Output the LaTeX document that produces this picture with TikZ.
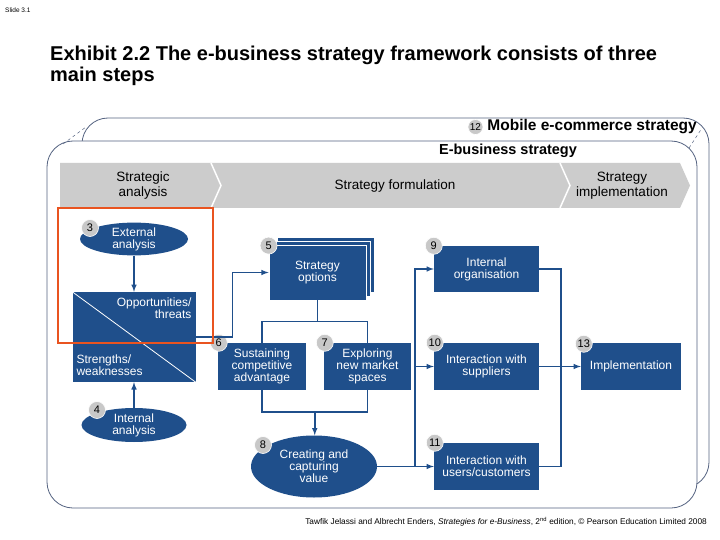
\documentclass[tikz,border=0pt]{standalone}
\usepackage{fontspec}
\setmainfont{Liberation Sans}
\usetikzlibrary{shapes.geometric,shadows,calc,positioning}
\definecolor{pearsonblue}{RGB}{31,79,139}
\definecolor{framegray}{RGB}{84,98,128}
\definecolor{chevgray}{RGB}{204,204,204}
\definecolor{badgegray}{RGB}{200,200,200}
\definecolor{hiorange}{RGB}{233,84,32}
\newcommand{\boxfont}{\fontsize{12}{12}\selectfont}

\begin{document}
\begin{tikzpicture}[
                        x=1pt, y=-1pt,
                        >=latex,
                        box/.style={rectangle, fill=pearsonblue, text=white, align=center, font=\boxfont, inner sep=0pt},
                        oval/.style={ellipse, fill=pearsonblue, text=white, align=center, font=\boxfont, inner sep=0pt},
                        stacked/.style={draw=white, line width=.8pt,
                            copy shadow={shadow xshift=8pt, shadow yshift=8pt},
                            copy shadow={shadow xshift=4pt, shadow yshift=4pt}},
                        badge/.style={circle, fill=badgegray, draw=white, line width=.6pt, inner sep=0pt, minimum size=17pt, font=\fontsize{11}{11}\selectfont},
                        link/.style={draw=pearsonblue, line width=1.5pt},
                        stage/.style={align=center, font=\fontsize{13.5}{15}\selectfont},
                        frame/.style={draw=framegray, line width=.8pt, rounded corners=26pt},
                        heading/.style={font=\bfseries\fontsize{14.5}{15}\selectfont, inner sep=0pt}
                    ]
                    \useasboundingbox (0,0) rectangle (720,540);

                    % Titles
                    \node [anchor=west, inner sep=0pt, font=\fontsize{6.5}{7}\selectfont] (slideNo) at (5,10) {Slide 3.1};
                    \node [anchor=north west, inner sep=0pt, align=left, font=\bfseries\fontsize{20}{21}\selectfont] (title) at (50,46) {Exhibit 2.2 The e-business strategy framework consists of three\\main steps};
                    \node [anchor=east, inner sep=0pt, font=\fontsize{8.3}{9}\selectfont] (credit) at (707,522) {Tawfik Jelassi and Albrecht Enders, \textit{Strategies for e-Business}, 2\textsuperscript{nd} edition, © Pearson Education Limited 2008};

                    % Frames
                    \draw [frame] (82,118) rectangle (709,488);
                    \draw [frame, fill=white] (47,141) rectangle (697,508);
                    \draw [framegray, dashed, line width=.5pt] (63,144) -- (86,127);
                    \draw [framegray, dashed, line width=.5pt] (689,148) -- (702,128);
                    \node [heading, font=\bfseries\fontsize{15.5}{16}\selectfont, anchor=east] (mobileLbl) at (697,127) {Mobile e-commerce strategy};
                    \node [badge, minimum size=15pt, font=\fontsize{10}{10}\selectfont, left=4pt of mobileLbl] (num12) {12};
                    \node [heading] (ebizLbl) at (508,151) {E-business strategy};

                    % Stages
                    \fill [chevgray] (60,163) -- (680,163) -- (690,185.5) -- (680,208) -- (60,208) -- cycle;
                    \draw [white, line width=1.5pt] (211,163) -- (221,185.5) -- (211,208);
                    \draw [white, line width=1.5pt] (560,163) -- (570,185.5) -- (560,208);
                    \node [stage] (anaStage) at (143,185.5) {Strategic\\analysis};
                    \node [stage] (formStage) at (395,186) {Strategy formulation};
                    \node [stage] (implStage) at (622,185.5) {Strategy\\implementation};

                    % Blocks
                    \node [oval, minimum width=108pt, minimum height=32pt] (extAna) at (134,239) {External\\analysis};
                    \node [box, minimum width=123pt, minimum height=90pt] (oppThr) at (134,337) {};
                    \draw [white, line width=.8pt] (oppThr.north west) -- (oppThr.south east);
                    \node [box, fill=none, anchor=north east, align=right] (oppTxt) at ($(oppThr.north east)+(-4,6)$) {Opportunities/\\threats};
                    \node [box, fill=none, anchor=south west, align=left] (swTxt) at ($(oppThr.south west)+(4,-6)$) {Strengths/\\weaknesses};
                    \node [oval, minimum width=105pt, minimum height=34pt] (intAna) at (134,425) {Internal\\analysis};

                    \node [box, stacked, minimum width=97pt, minimum height=55pt] (stratOpt) at (317.5,272.5) {Strategy\\options};
                    \node [box, minimum width=88pt, minimum height=47pt] (sustain) at (262,366.5) {Sustaining\\competitive\\advantage};
                    \node [box, minimum width=87pt, minimum height=47pt] (explore) at (367.5,366.5) {Exploring\\new market\\spaces};
                    \node [oval, minimum width=126pt, minimum height=62pt] (createVal) at (314,466.5) {Creating and\\capturing\\value};

                    \node [box, minimum width=105pt, minimum height=46pt] (intOrg) at (486.5,269) {Internal\\organisation};
                    \node [box, minimum width=105pt, minimum height=47pt] (suppliers) at (486.5,366.5) {Interaction with\\suppliers};
                    \node [box, minimum width=105pt, minimum height=47pt] (users) at (486.5,466.5) {Interaction with\\users/customers};
                    \node [box, minimum width=100pt, minimum height=47pt] (impl) at (631,366.5) {Implementation};

                    % Numbers
                    \node [badge] (num3) at (90,228) {3};
                    \node [badge] (num4) at (97,410) {4};
                    \node [badge] (num5) at ($(stratOpt.north west)+(0,1)$) {5};
                    \node [badge] (num6) at ($(sustain.north west)+(1,0)$) {6};
                    \node [badge] (num7) at ($(explore.north west)+(1,0)$) {7};
                    \node [badge] (num8) at (263,445) {8};
                    \node [badge] (num9) at ($(intOrg.north west)+(0,0)$) {9};
                    \node [badge] (num10) at ($(suppliers.north west)+(1,0)$) {10};
                    \node [badge] (num11) at ($(users.north west)+(1,0)$) {11};
                    \node [badge] (num13) at ($(impl.north west)+(3,1)$) {13};

                    % Connections
                    \coordinate (busL) at (415,0);
                    \coordinate (busR) at (561,0);
                    \draw [link, ->] (extAna) -- (oppThr);
                    \draw [link, ->] (intAna) -- (oppThr);
                    \draw [link, ->] (oppThr.east) -- ++(37,0) |- (stratOpt.west);
                    \draw [link] (stratOpt.south) -- ++(0,21) coordinate (split);
                    \draw [link] (sustain.north) |- (split) -| (explore.north);
                    \draw [link] (sustain.south) -- ++(0,22) coordinate (mergeL) -| (explore.south);
                    \coordinate (merge) at ($(mergeL)!0.5!(mergeL -| explore.south)$);
                    \draw [link, ->] (merge) -- (merge |- createVal.north);
                    \draw [link, ->] (createVal.east) -- (users.west);
                    \draw [link, ->] (busL |- users.west) |- (intOrg.west);
                    \draw [link, ->] (busL |- suppliers.west) -- (suppliers.west);
                    \draw [link] (intOrg.east) -| (busR |- users.east) -- (users.east);
                    \draw [link, ->] (suppliers.east) -- (impl.west);

                    % Highlight
                    \draw [hiorange, line width=2.5pt] (58,208) rectangle (213,343);
                \end{tikzpicture}
\end{document}
